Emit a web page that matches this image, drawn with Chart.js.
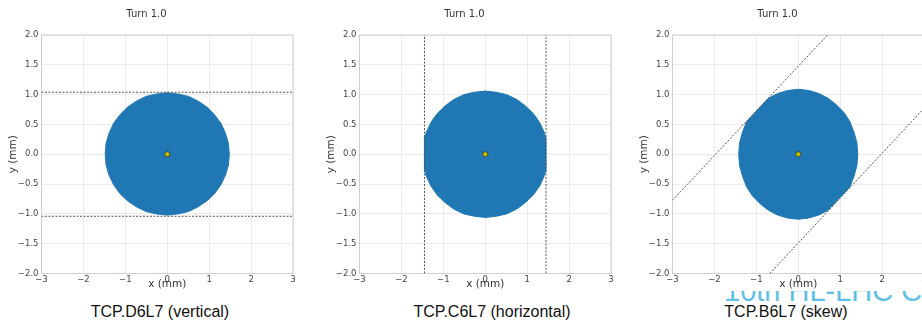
<!DOCTYPE html>
<html>
<head>
<meta charset="utf-8">
<title>Collimator cuts, turn 1</title>
<script src="https://cdn.jsdelivr.net/npm/chart.js@4.4.0/dist/chart.umd.min.js"></script>
<style>
  html, body { margin:0; padding:0; background:#fff; width:922px; height:322px; overflow:hidden; position:relative; }
  .panel { position:absolute; top:0; }
  .panel canvas { display:block; background:#fff; }
  .caption { position:absolute; top:304px; width:260px; margin-left:-130px; text-align:center;
             font:16px/16px "Liberation Sans", Arial, sans-serif; color:#111; white-space:nowrap; }
  .banner { position:absolute; left:724px; top:277px; font:29px/29px "Liberation Sans", Arial, sans-serif;
            color:#5ec0e6; white-space:nowrap; }
</style>
</head>
<body>
<div class="banner">10th HL-LHC Collaboration Meeting</div>
<div class="panel" style="left:0px"><canvas id="vertical" width="305" height="291"></canvas></div>
<div class="panel" style="left:318px"><canvas id="horizontal" width="305" height="291"></canvas></div>
<div class="panel" style="left:631px"><canvas id="skew" width="305" height="291"></canvas></div>
<div class="caption" style="left:160px">TCP.D6L7 (vertical)</div>
<div class="caption" style="left:492px">TCP.C6L7 (horizontal)</div>
<div class="caption" style="left:786px">TCP.B6L7 (skew)</div>
<script>
// axes (mm)
const xRange = [-3, 3];
const yRange = [-2, 2];
const xStep = 1;
const yStep = 0.5;
const turnLabel = 'Turn 1.0';

// outline of the particle cloud after the cut, [x, y] in mm
const cloudVertical = [
  [1.48, 0], [1.46, 0.18], [1.39, 0.35], [1.28, 0.52], [1.13, 0.66], [0.95, 0.79],
  [0.74, 0.89], [0.51, 0.97], [0.26, 1.01], [0, 1.03], [-0.26, 1.01], [-0.51, 0.97],
  [-0.74, 0.89], [-0.95, 0.79], [-1.13, 0.66], [-1.28, 0.52], [-1.39, 0.35], [-1.46, 0.18],
  [-1.48, 0], [-1.46, -0.18], [-1.39, -0.35], [-1.28, -0.51], [-1.13, -0.66], [-0.95, -0.78],
  [-0.74, -0.88], [-0.51, -0.96], [-0.26, -1.00], [0, -1.02], [0.26, -1.00], [0.51, -0.96],
  [0.74, -0.88], [0.95, -0.78], [1.13, -0.66], [1.28, -0.51], [1.39, -0.35], [1.46, -0.18]
];
const cloudHorizontal = [
  [1.45, 0], [1.45, 0.27], [1.41, 0.36], [1.30, 0.53], [1.15, 0.68], [0.96, 0.81],
  [0.75, 0.92], [0.51, 1.00], [0.26, 1.04], [0, 1.06], [-0.26, 1.04], [-0.51, 1.00],
  [-0.75, 0.92], [-0.96, 0.81], [-1.15, 0.68], [-1.30, 0.53], [-1.41, 0.36], [-1.45, 0.27],
  [-1.45, 0], [-1.45, -0.27], [-1.41, -0.36], [-1.30, -0.53], [-1.15, -0.68], [-0.96, -0.81],
  [-0.75, -0.92], [-0.51, -1.00], [-0.26, -1.04], [0, -1.06], [0.26, -1.04], [0.51, -1.00],
  [0.75, -0.92], [0.96, -0.81], [1.15, -0.68], [1.30, -0.53], [1.41, -0.36], [1.45, -0.27]
];
const cloudSkew = [
  [1.42, 0], [1.40, 0.19], [1.33, 0.37], [1.23, 0.55], [1.09, 0.70], [0.91, 0.83],
  [0.71, 0.94], [0.49, 1.02], [0.25, 1.07], [0, 1.09], [-0.25, 1.07], [-0.49, 1.02],
  [-0.71, 0.94], [-1.23, 0.55], [-1.33, 0.37], [-1.40, 0.19],
  [-1.42, 0], [-1.40, -0.19], [-1.33, -0.37], [-1.23, -0.55], [-1.09, -0.70], [-0.91, -0.83],
  [-0.71, -0.94], [-0.49, -1.02], [-0.25, -1.07], [0, -1.09], [0.25, -1.07], [0.49, -1.02],
  [0.71, -0.94], [1.23, -0.55], [1.33, -0.37], [1.40, -0.19]
];

// jaw positions (mm)
const jawVertical = [1.04, -1.04];
const jawHorizontal = [-1.45, 1.45];
const jawSkewUpper = [[-3, -0.77], [0.70, 2.0]];
const jawSkewLower = [[-0.68, -2.0], [3.0, 0.77]];

// reference orbit
const beamCentre = [0, 0];

Chart.defaults.font.family = '"DejaVu Sans", sans-serif';
Chart.defaults.color = '#444';

const minus = s => s.replace('-', '\u2212');

// light frame around the plot area on all four sides
const frame = {
  id: 'frame',
  beforeDatasetsDraw(chart) {
    const { ctx, chartArea: a } = chart;
    ctx.save();
    ctx.strokeStyle = '#cfcfcf';
    ctx.lineWidth = 1;
    ctx.strokeRect(a.left, a.top, a.right - a.left, a.bottom - a.top);
    ctx.restore();
  }
};

const toPts = arr => arr.map(([x, y]) => ({ x, y }));

function makePanel(id, cloud, jaws) {
  const closed = cloud.concat([cloud[0]]);
  const datasets = [
    {
      data: toPts([beamCentre]),
      pointRadius: 2.6,
      backgroundColor: '#bfbf00',
      borderColor: '#333',
      borderWidth: 0.8,
      order: 0
    },
    ...jaws.map(j => ({
      data: toPts(j),
      showLine: true,
      pointRadius: 0,
      borderColor: '#555',
      borderWidth: 1,
      borderDash: [2, 1.5],
      order: 1
    })),
    {
      data: toPts(closed),
      showLine: true,
      fill: 'shape',
      tension: 0,
      pointRadius: 0,
      borderColor: '#1f77b4',
      backgroundColor: '#1f77b4',
      borderWidth: 1,
      borderJoinStyle: 'round',
      order: 2
    }
  ];

  new Chart(document.getElementById(id), {
    type: 'scatter',
    data: { datasets },
    plugins: [frame],
    options: {
      responsive: false,
      animation: false,
      devicePixelRatio: 1,
      events: [],
      layout: { padding: { left: 0, right: 12, top: 0, bottom: 0 } },
      plugins: {
        legend: { display: false },
        tooltip: { enabled: false },
        title: {
          display: true,
          text: turnLabel,
          color: '#333',
          font: { size: 10, weight: 'normal' },
          padding: { top: 8, bottom: 15 }
        }
      },
      scales: {
        x: {
          type: 'linear',
          min: xRange[0],
          max: xRange[1],
          afterFit: s => { s.height = 17.5; },
          border: { color: '#cfcfcf' },
          grid: { color: '#ebebeb', drawTicks: false },
          ticks: {
            stepSize: xStep,
            autoSkip: false,
            maxRotation: 0,
            padding: 1,
            font: { size: 8.5 },
            callback: v => minus(v.toFixed(0))
          },
          title: { display: true, text: 'x (mm)', color: '#333', font: { size: 10.5 }, padding: { top: 0, bottom: 0 } }
        },
        y: {
          type: 'linear',
          min: yRange[0],
          max: yRange[1],
          afterFit: s => { s.width = 41.5; },
          border: { color: '#cfcfcf' },
          grid: { color: '#ebebeb', drawTicks: false },
          ticks: {
            stepSize: yStep,
            autoSkip: false,
            padding: 3,
            font: { size: 8.5 },
            callback: v => minus(v.toFixed(1))
          },
          title: { display: true, text: 'y (mm)', color: '#333', font: { size: 10.5 }, padding: { top: 7, bottom: 0 } }
        }
      }
    }
  });
}

makePanel('vertical', cloudVertical,
  jawVertical.map(y => [[xRange[0], y], [xRange[1], y]]));
makePanel('horizontal', cloudHorizontal,
  jawHorizontal.map(x => [[x, yRange[0]], [x, yRange[1]]]));
makePanel('skew', cloudSkew, [jawSkewUpper, jawSkewLower]);
</script>
</body>
</html>
